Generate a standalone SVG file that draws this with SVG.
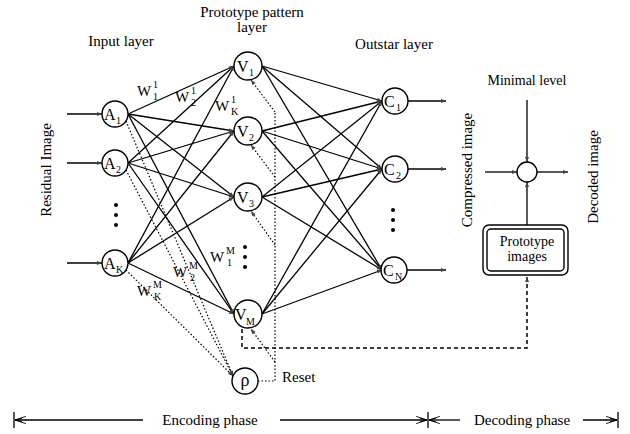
<svg xmlns="http://www.w3.org/2000/svg" width="630" height="434" viewBox="0 0 630 434">
<defs>
<marker id="ah" viewBox="0 0 10 10" refX="10" refY="5" markerWidth="7" markerHeight="5" markerUnits="userSpaceOnUse" orient="auto"><path d="M0,1 L10,5 L0,9 z" fill="#444"/></marker>
<marker id="oa" viewBox="0 0 12 10" refX="12" refY="5" markerWidth="12" markerHeight="9" markerUnits="userSpaceOnUse" orient="auto"><path d="M0,1 L12,5 L0,9 M4,3 L12,5 L4,7" fill="none" stroke="#000" stroke-width="1"/></marker>
</defs>
<style>
text{font-family:"Liberation Serif","Times New Roman",serif;fill:#000}
.lbl{font-size:15px}
.nl{font-size:16px}
.sub{font-size:10px}
.w{font-size:15px}
.node{fill:#fff;stroke:#000;stroke-width:1.4}
.c line{stroke:#000;stroke-width:1.3;marker-end:url(#ah)}
.dot{stroke:#000;stroke-width:1.2;stroke-dasharray:1.5,2;fill:none}
.dash{stroke:#000;stroke-width:1.5;stroke-dasharray:4,3;fill:none}
.dots circle{fill:#000}
</style>
<rect width="630" height="434" fill="#fff"/>

<g id="labels">
<text class="lbl" x="121" y="46" text-anchor="middle">Input layer</text>
<text class="lbl" x="252" y="17" text-anchor="middle">Prototype pattern</text>
<text class="lbl" x="252" y="32" text-anchor="middle">layer</text>
<text class="lbl" x="394" y="49" text-anchor="middle">Outstar layer</text>
<text class="lbl" x="527" y="85" text-anchor="middle" style="font-size:14px">Minimal level</text>
<text class="lbl" transform="translate(51,170) rotate(-90)" text-anchor="middle">Residual Image</text>
<text class="lbl" transform="translate(472,170) rotate(-90)" text-anchor="middle">Compressed image</text>
<text class="lbl" transform="translate(598,177) rotate(-90)" text-anchor="middle">Decoded image</text>
<text class="lbl" x="282" y="382">Reset</text>
<text class="lbl" x="210" y="425" text-anchor="middle">Encoding phase</text>
<text class="lbl" x="522" y="425" text-anchor="middle">Decoding phase</text>
</g>

<g id="weights">
<text class="w" x="137" y="96">W</text><text class="sub" x="153" y="88">1</text><text class="sub" x="153" y="100">1</text>
<text class="w" x="175" y="102">W</text><text class="sub" x="191" y="94">1</text><text class="sub" x="191" y="106">2</text>
<text class="w" x="215" y="111">W</text><text class="sub" x="231" y="103">1</text><text class="sub" x="231" y="115">K</text>
<text class="w" x="210" y="262">W</text><text class="sub" x="226" y="254">M</text><text class="sub" x="227" y="266">1</text>
<text class="w" x="173" y="277">W</text><text class="sub" x="189" y="269">M</text><text class="sub" x="190" y="281">2</text>
<text class="w" x="137" y="296">W</text><text class="sub" x="153" y="288">M</text><text class="sub" x="154" y="300">K</text>
</g>

<g id="connectors">
<g class="c">
<line x1="67" y1="114" x2="102" y2="114"/>
<line x1="67" y1="163" x2="102" y2="163"/>
<line x1="67" y1="263" x2="102" y2="263"/>
<line x1="128" y1="114" x2="234" y2="66"/>
<line x1="128" y1="114" x2="234" y2="131"/>
<line x1="128" y1="114" x2="234" y2="197"/>
<line x1="128" y1="114" x2="234" y2="314"/>
<line x1="128" y1="163" x2="234" y2="66"/>
<line x1="128" y1="163" x2="234" y2="131"/>
<line x1="128" y1="163" x2="234" y2="197"/>
<line x1="128" y1="163" x2="234" y2="314"/>
<line x1="128" y1="263" x2="234" y2="66"/>
<line x1="128" y1="263" x2="234" y2="131"/>
<line x1="128" y1="263" x2="234" y2="197"/>
<line x1="128" y1="263" x2="234" y2="314"/>
<line x1="262" y1="66" x2="382" y2="101"/>
<line x1="262" y1="66" x2="382" y2="169"/>
<line x1="262" y1="66" x2="382" y2="270"/>
<line x1="262" y1="131" x2="382" y2="101"/>
<line x1="262" y1="131" x2="382" y2="169"/>
<line x1="262" y1="131" x2="382" y2="270"/>
<line x1="262" y1="197" x2="382" y2="101"/>
<line x1="262" y1="197" x2="382" y2="169"/>
<line x1="262" y1="197" x2="382" y2="270"/>
<line x1="262" y1="314" x2="382" y2="101"/>
<line x1="262" y1="314" x2="382" y2="169"/>
<line x1="262" y1="314" x2="382" y2="270"/>
<line x1="408" y1="101" x2="446" y2="101"/>
<line x1="408" y1="169" x2="446" y2="169"/>
<line x1="407" y1="270" x2="446" y2="270"/>
<line x1="527" y1="100" x2="527" y2="162"/>
<line x1="485" y1="172" x2="517" y2="172"/>
<line x1="537" y1="172" x2="568" y2="172"/>
<line x1="527" y1="225" x2="527" y2="182"/>
</g>
<line class="dot" x1="126" y1="121" x2="233" y2="376" marker-end="url(#ah)"/>
<line class="dot" x1="126" y1="170" x2="233" y2="376" marker-end="url(#ah)"/>
<line class="dot" x1="126" y1="270" x2="233" y2="376" marker-end="url(#ah)"/>
<path class="dot" d="M258,381 H275 V112"/>
<line class="dot" x1="275" y1="112" x2="251" y2="80" marker-end="url(#ah)"/>
<line class="dot" x1="275" y1="177" x2="251" y2="145" marker-end="url(#ah)"/>
<line class="dot" x1="275" y1="245" x2="251" y2="211" marker-end="url(#ah)"/>
<line class="dot" x1="275" y1="362" x2="251" y2="329" marker-end="url(#ah)"/>
<path class="dash" d="M242,329 V348 H527 V277" marker-end="url(#ah)"/>
<g stroke="#000" stroke-width="1.3" fill="none">
<line x1="14" y1="412" x2="14" y2="428"/>
<line x1="143" y1="420" x2="15" y2="420" marker-end="url(#oa)"/>
<line x1="280" y1="420" x2="427" y2="420" marker-end="url(#oa)"/>
<line x1="428" y1="412" x2="428" y2="428"/>
<line x1="460" y1="420" x2="429" y2="420" marker-end="url(#oa)"/>
<line x1="583" y1="420" x2="617" y2="420" marker-end="url(#oa)"/>
<line x1="618" y1="412" x2="618" y2="428"/>
</g>
</g>

<g id="A1"><circle class="node" cx="115" cy="114" r="13"/><text class="nl" x="104" y="120">A</text><text class="sub" x="116" y="124">1</text></g>
<g id="A2"><circle class="node" cx="115" cy="163" r="13"/><text class="nl" x="104" y="169">A</text><text class="sub" x="116" y="173">2</text></g>
<g id="AK"><circle class="node" cx="115" cy="263" r="13"/><text class="nl" x="104" y="269">A</text><text class="sub" x="116" y="273">K</text></g>
<g id="V1"><circle class="node" cx="248" cy="66" r="14"/><text class="nl" x="237" y="72">V</text><text class="sub" x="249" y="76">1</text></g>
<g id="V2"><circle class="node" cx="248" cy="131" r="14"/><text class="nl" x="237" y="137">V</text><text class="sub" x="249" y="141">2</text></g>
<g id="V3"><circle class="node" cx="248" cy="197" r="14"/><text class="nl" x="237" y="203">V</text><text class="sub" x="249" y="207">3</text></g>
<g id="VM"><circle class="node" cx="248" cy="314" r="14"/><text class="nl" x="235" y="320">V</text><text class="sub" x="246" y="325">M</text></g>
<g id="rho"><circle class="node" cx="245" cy="381" r="13"/><text class="nl" x="245" y="386" text-anchor="middle" style="font-size:18px">ρ</text></g>
<g id="C1"><circle class="node" cx="395" cy="101" r="13"/><text class="nl" x="384" y="107">C</text><text class="sub" x="396" y="111">1</text></g>
<g id="C2"><circle class="node" cx="395" cy="169" r="13"/><text class="nl" x="384" y="175">C</text><text class="sub" x="396" y="179">2</text></g>
<g id="CN"><circle class="node" cx="394" cy="270" r="13"/><text class="nl" x="383" y="276">C</text><text class="sub" x="395" y="280">N</text></g>
<g id="sum"><circle class="node" cx="527" cy="172" r="10"/></g>
<g id="proto">
<rect x="483" y="225" width="85" height="50" rx="6" fill="#fff" stroke="#000" stroke-width="1.4"/>
<rect x="487" y="229" width="77" height="42" rx="4" fill="none" stroke="#000" stroke-width="1.4"/>
<text x="527" y="246" text-anchor="middle" style="font-size:14px">Prototype</text>
<text x="527" y="261" text-anchor="middle" style="font-size:14px">images</text>
</g>

<g class="dots">
<circle cx="116" cy="205" r="2"/><circle cx="116" cy="215" r="2"/><circle cx="116" cy="225" r="2"/>
<circle cx="245" cy="247" r="2"/><circle cx="245" cy="257" r="2"/><circle cx="245" cy="267" r="2"/>
<circle cx="393" cy="210" r="2"/><circle cx="393" cy="220" r="2"/><circle cx="393" cy="230" r="2"/>
</g>
</svg>
